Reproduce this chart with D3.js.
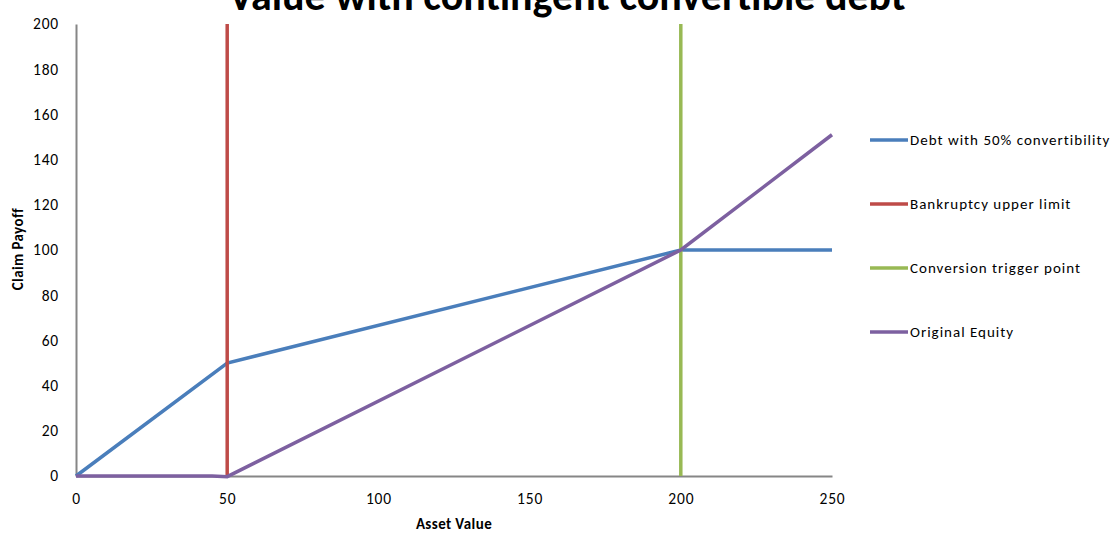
<!DOCTYPE html>
<html>
<head>
<meta charset="utf-8">
<script src="https://cdn.jsdelivr.net/npm/d3@7"></script>
<style>
  body { margin: 0; background: #fff; }
  text { font-family: Carlito, Calibri, "Liberation Sans", Arial, sans-serif; }
</style>
</head>
<body>
<script>
var debt = [
    {x: 0, y: 0}, {x: 50, y: 50}, {x: 200, y: 100}, {x: 250, y: 100}
];
var bankruptcy = [
    {x: 50, y: 0}, {x: 50, y: 200}
];
var trigger = [
    {x: 200, y: 0}, {x: 200, y: 200}
];
var equity = [
    {x: 0, y: 0}, {x: 45, y: 0}, {x: 50, y: -0.3}, {x: 200, y: 100}, {x: 250, y: 151}
];
var xTicks = [0, 50, 100, 150, 200, 250];
var yTicks = [0, 20, 40, 60, 80, 100, 120, 140, 160, 180, 200];

var series = [
    {name: 'Debt with  50% convertibility', data: debt, color: '#4a7ebb'},
    {name: 'Bankruptcy upper limit', data: bankruptcy, color: '#be4b48'},
    {name: 'Conversion trigger point', data: trigger, color: '#98b954'},
    {name: 'Original Equity', data: equity, color: '#7d60a0'}
];

var width = 1114,
    height = 533,
    padding = { top: 24, bottom: 57, left: 76, right: 282 };

var svg = d3.select('body')
    .append('svg')
    .attr('width', width)
    .attr('height', height)

var w = width - padding.left - padding.right,
    h = height - padding.top - padding.bottom;

var g = svg.append('g')
    .attr('transform', `translate(${padding.left}, ${padding.top})`)

var xScale = d3.scaleLinear()
    .domain([0, 250])
    .range([0, w])

var yScale = d3.scaleLinear()
    .domain([0, 200])
    .range([h, 0])

var xAxis = d3.axisBottom(xScale).tickValues(xTicks).tickSize(0).tickPadding(17)
var yAxis = d3.axisLeft(yScale).tickValues(yTicks).tickSize(0).tickPadding(17)

var gx = g.append('g')
    .attr('transform', `translate(0, ${h})`)
    .call(xAxis)

var gy = g.append('g').call(yAxis)

;[gx, gy].forEach(function (a) {
    a.select('.domain').attr('stroke', '#868686').attr('stroke-width', 2)
    a.selectAll('text').attr('font-size', 15.5).attr('fill', '#000')
        .attr('letter-spacing', 0.8)
        .style('font-family', 'Carlito, Calibri, "Liberation Sans", Arial, sans-serif')
})

var line = d3.line()
    .x(d => xScale(d.x))
    .y(d => yScale(d.y))

series.forEach(function (s) {
    g.append('path')
        .attr('d', line(s.data))
        .attr('fill', 'none')
        .attr('stroke', s.color)
        .attr('stroke-width', 3.5)
})

// title
svg.append('text')
    .attr('x', 567)
    .attr('y', 10)
    .attr('text-anchor', 'middle')
    .attr('font-size', 42)
    .attr('font-weight', 'bold')
    .text('Value with contingent convertible debt')

// axis titles
svg.append('text')
    .attr('x', 454)
    .attr('y', 529)
    .attr('text-anchor', 'middle')
    .attr('font-size', 15)
    .attr('font-weight', 'bold')
    .attr('letter-spacing', 0.4)
    .text('Asset Value')

svg.append('text')
    .attr('transform', `translate(23, 249) rotate(-90)`)
    .attr('text-anchor', 'middle')
    .attr('font-size', 15)
    .attr('font-weight', 'bold')
    .attr('letter-spacing', 0.4)
    .text('Claim Payoff')

// legend
var legend = svg.append('g')
    .attr('transform', 'translate(870, 140)')

series.forEach(function (s, i) {
    var row = legend.append('g').attr('transform', `translate(0, ${i * 64})`)
    row.append('line')
        .attr('x1', 0).attr('x2', 38)
        .attr('stroke', s.color)
        .attr('stroke-width', 3.5)
    row.append('text')
        .attr('x', 40)
        .attr('y', 5)
        .attr('font-size', 15)
        .attr('letter-spacing', 1)
        .text(s.name)
})
</script>
</body>
</html>
